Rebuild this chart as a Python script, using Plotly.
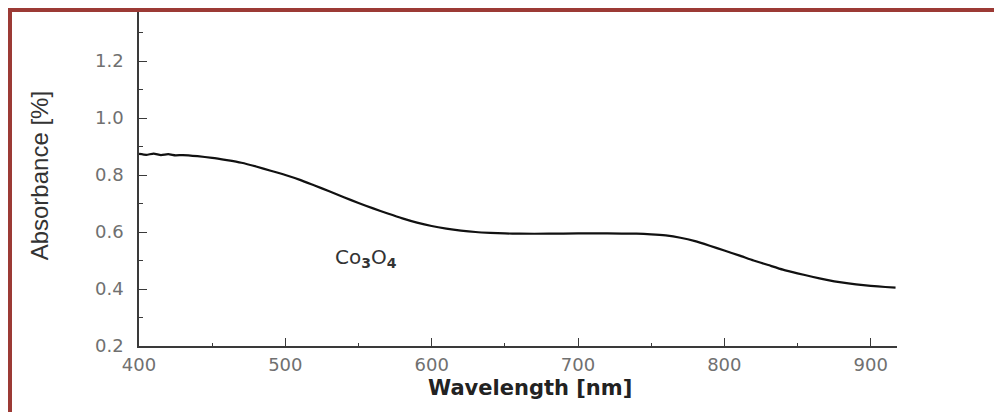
import plotly.graph_objects as go

# Absorbance spectrum of Co3O4 film
wavelength_nm = [400, 405, 410, 415, 420, 425, 430, 440, 450, 460, 470, 480, 490, 500,
                 510, 520, 530, 540, 550, 560, 570, 580, 590, 600, 610, 620, 630,
                 640, 650, 660, 680, 700, 720, 740, 750, 760, 770, 780, 790, 800,
                 810, 820, 830, 840, 850, 860, 870, 880, 890, 900, 910, 917]
absorbance = [0.874, 0.871, 0.875, 0.870, 0.873, 0.869, 0.870, 0.866, 0.860, 0.852, 0.843, 0.830, 0.815, 0.800,
              0.783, 0.763, 0.743, 0.722, 0.702, 0.683, 0.665, 0.648, 0.633, 0.621, 0.612, 0.605, 0.600,
              0.597, 0.595, 0.594, 0.594, 0.595, 0.595, 0.594, 0.592, 0.588, 0.580, 0.568, 0.552, 0.535,
              0.518, 0.500, 0.484, 0.468, 0.455, 0.443, 0.432, 0.423, 0.416, 0.411, 0.407, 0.405]

x_ticks = [400, 500, 600, 700, 800, 900]
y_ticks = [0.2, 0.4, 0.6, 0.8, 1.0, 1.2]
y_tick_text = ["0.2", "0.4", "0.6", "0.8", "1.0", "1.2"]

frame_color = "#9c3a35"
axis_color = "#3a3a3a"
label_color = "#707070"

fig = go.Figure()
fig.add_trace(go.Scatter(
    x=wavelength_nm, y=absorbance, mode="lines",
    line=dict(color="#111111", width=2.2, shape="spline", smoothing=0.5),
    showlegend=False, hoverinfo="skip",
))

fig.update_layout(
    width=994, height=412,
    margin=dict(l=139, r=97, t=12, b=66),
    paper_bgcolor="white", plot_bgcolor="white",
    xaxis=dict(
        range=[400, 918], showgrid=False, zeroline=False,
        showline=True, linecolor=axis_color, linewidth=1.5,
        ticks="inside", ticklen=8, tickwidth=1.3, tickcolor=axis_color,
        tickvals=x_ticks, ticktext=[str(v) for v in x_ticks],
        tickfont=dict(family="DejaVu Sans", size=18, color=label_color),
        ticklabelstandoff=2,
        minor=dict(dtick=50, tick0=400, ticks="inside", ticklen=3, tickwidth=1.3, tickcolor=axis_color),
    ),
    yaxis=dict(
        range=[0.2, 1.372], showgrid=False, zeroline=False,
        showline=True, linecolor=axis_color, linewidth=1.5,
        ticks="inside", ticklen=8, tickwidth=1.3, tickcolor=axis_color,
        tickvals=y_ticks, ticktext=y_tick_text,
        tickfont=dict(family="DejaVu Sans", size=18, color=label_color),
        ticklabelstandoff=10,
        minor=dict(dtick=0.1, tick0=0.2, ticks="inside", ticklen=4, tickwidth=1.3, tickcolor=axis_color),
    ),
    annotations=[
        dict(text="Wavelength [nm]", xref="paper", yref="paper", x=0.516, y=-0.085,
             xanchor="center", yanchor="top", showarrow=False,
             font=dict(family="DejaVu Sans", size=21, color="#222222", weight="bold")),
        dict(text="Absorbance [%]", xref="paper", yref="paper", x=-0.131, y=0.51,
             xanchor="center", yanchor="middle", showarrow=False, textangle=-90,
             font=dict(family="Liberation Sans Narrow, Liberation Sans", size=24, color="#333333")),
        dict(text="Co<sub><b>3</b></sub>O<sub><b>4</b></sub>", x=555, y=0.51, xref="x", yref="y",
             xanchor="center", yanchor="middle", showarrow=False,
             font=dict(family="DejaVu Sans", size=20, color="#333333")),
    ],
    shapes=[
        # outer frame: top and left edges
        dict(type="rect", xref="paper", yref="paper", x0=(8 - 139) / 758, x1=(994 - 139) / 758,
             y0=(346 - 12) / 334, y1=(346 - 8) / 334, fillcolor=frame_color, line=dict(width=0), layer="above"),
        dict(type="rect", xref="paper", yref="paper", x0=(8 - 139) / 758, x1=(12 - 139) / 758,
             y0=(346 - 412) / 334, y1=(346 - 8) / 334, fillcolor=frame_color, line=dict(width=0), layer="above"),
    ],
)

fig.write_html("out.html")
